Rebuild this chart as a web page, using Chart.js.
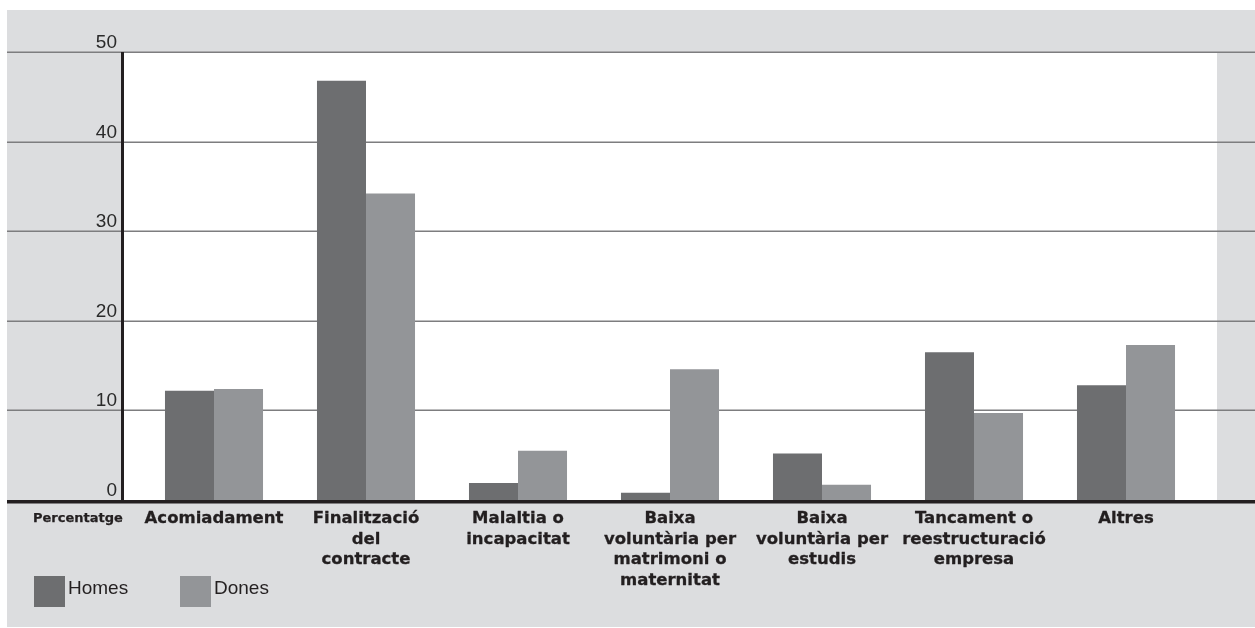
<!DOCTYPE html>
<html>
<head>
<meta charset="utf-8">
<script src="https://cdn.jsdelivr.net/npm/chart.js@4"></script>
<style>
html,body{margin:0;padding:0;background:#ffffff;}
canvas{display:block;}
</style>
</head>
<body>
<canvas id="c" width="1255" height="628"></canvas>
<script>
// ---- data ----
const categories = [
  ['Acomiadament'],
  ['Finalització', 'del', 'contracte'],
  ['Malaltia o', 'incapacitat'],
  ['Baixa', 'voluntària per', 'matrimoni o', 'maternitat'],
  ['Baixa', 'voluntària per', 'estudis'],
  ['Tancament o', 'reestructuració', 'empresa'],
  ['Altres']
];
const seriesNames = ['Homes', 'Dones'];
const homes = [12.2, 46.8, 1.9, 0.8, 5.2, 16.5, 12.8];
const dones = [12.4, 34.2, 5.5, 14.6, 1.7, 9.7, 17.3];
const yTicks = [0, 10, 20, 30, 40, 50];
const axisTitle = 'Percentatge';

// ---- styles ----
const COL_HOMES = '#6d6e70';
const COL_DONES = '#939598';
const BG_GRAY = '#dcdddf';
const INK = '#231f20';
const GRID = '#7d7d7f';
const LABEL_FONT = 'bold 16.5px "DejaVu Sans", "Liberation Sans", sans-serif';
const TICK_FONT = '19px "Liberation Sans", Arial, sans-serif';

function heavyText(ctx, t, x, y) {
  ctx.fillText(t, x, y);
  ctx.strokeText(t, x, y);
}

const decor = {
  id: 'decor',
  beforeDraw(chart) {
    const ctx = chart.ctx;
    const ca = chart.chartArea;
    const y = chart.scales.y;
    ctx.save();
    // gray panel
    ctx.fillStyle = BG_GRAY;
    ctx.fillRect(7, 10, chart.width - 7, chart.height - 11);
    // white plot area
    ctx.fillStyle = '#ffffff';
    ctx.fillRect(ca.left - 15, ca.top, (ca.right + 15) - (ca.left - 15), ca.bottom - ca.top);
    // gridlines (full width)
    ctx.strokeStyle = GRID;
    ctx.lineWidth = 1.6;
    yTicks.forEach(v => {
      if (v === 0) return;
      const py = Math.round(y.getPixelForValue(v)) + 0.2;
      ctx.beginPath();
      ctx.moveTo(7, py);
      ctx.lineTo(chart.width, py);
      ctx.stroke();
    });
    // y tick labels, above gridlines
    ctx.fillStyle = '#2a2a2a';
    ctx.font = TICK_FONT;
    ctx.textAlign = 'right';
    ctx.textBaseline = 'alphabetic';
    yTicks.forEach(v => {
      const py = y.getPixelForValue(v);
      ctx.fillText(String(v), ca.left - 21, py - 4);
    });
    ctx.restore();
  },
  afterDatasetsDraw(chart) {
    const ctx = chart.ctx;
    const ca = chart.chartArea;
    const x = chart.scales.x;
    const y = chart.scales.y;
    ctx.save();
    // vertical axis
    ctx.fillStyle = INK;
    ctx.fillRect(ca.left - 17, y.getPixelForValue(50), 3, y.getPixelForValue(0) - y.getPixelForValue(50));
    // baseline
    ctx.fillRect(7, y.getPixelForValue(0), chart.width - 7, 3.5);
    // category labels
    ctx.font = LABEL_FONT;
    ctx.strokeStyle = INK;
    ctx.lineWidth = 0.3;
    ctx.lineJoin = 'round';
    ctx.textAlign = 'center';
    ctx.textBaseline = 'alphabetic';
    categories.forEach((lines, i) => {
      const cx = x.getPixelForValue(i);
      lines.forEach((t, k) => {
        heavyText(ctx, t, cx, 523 + k * 20.5);
      });
    });
    // axis title
    ctx.font = 'bold 13px "DejaVu Sans", "Liberation Sans", sans-serif';
    ctx.lineWidth = 0.25;
    ctx.textAlign = 'left';
    heavyText(ctx, axisTitle, 33, 522);
    // legend
    const cols = chart.data.datasets.map(d => d.backgroundColor);
    const lx = [34, 180];
    ctx.font = TICK_FONT;
    chart.data.datasets.forEach((d, i) => {
      ctx.fillStyle = cols[i];
      ctx.fillRect(lx[i], 576, 31, 31);
      ctx.fillStyle = INK;
      ctx.fillText(d.label, lx[i] + 34, 594);
    });
    ctx.restore();
  }
};

new Chart(document.getElementById('c'), {
  type: 'bar',
  data: {
    labels: categories,
    datasets: [
      { label: seriesNames[0], data: homes, backgroundColor: COL_HOMES, borderWidth: 0 },
      { label: seriesNames[1], data: dones, backgroundColor: COL_DONES, borderWidth: 0 }
    ]
  },
  options: {
    responsive: false,
    animation: false,
    layout: { padding: { left: 138, right: 53, top: 52, bottom: 128 } },
    datasets: { bar: { categoryPercentage: 0.645, barPercentage: 1.0 } },
    plugins: { legend: { display: false }, tooltip: { enabled: false } },
    scales: {
      x: { display: false, offset: true },
      y: { display: false, min: 0, max: 50 }
    }
  },
  plugins: [decor]
});
</script>
</body>
</html>
